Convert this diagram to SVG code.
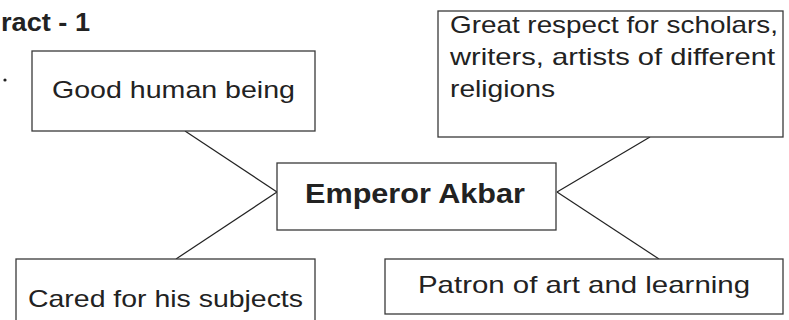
<svg xmlns="http://www.w3.org/2000/svg" width="789" height="320" viewBox="0 0 789 320">
<style>
.box{fill:#fff;stroke:#3a3a3a;stroke-width:1.3}
.t{font-family:"Liberation Sans",Arial,sans-serif;font-size:24px;fill:#222}
.b{font-family:"Liberation Sans",Arial,sans-serif;font-weight:bold;fill:#222}
.c{stroke:#222;stroke-width:1.2;fill:none}
</style>
<rect width="789" height="320" fill="#fff"/>
<text class="b" x="1" y="31" font-size="25" textLength="89" lengthAdjust="spacingAndGlyphs">ract - 1</text>
<circle cx="5" cy="80" r="1.6" fill="#222"/>
<g id="connectors">
<line class="c" x1="185" y1="131" x2="277" y2="192"/>
<line class="c" x1="277" y1="192" x2="176" y2="259"/>
<line class="c" x1="557" y1="192" x2="650" y2="137"/>
<line class="c" x1="557" y1="192" x2="659" y2="259"/>
</g>
<g id="good">
<rect class="box" x="32" y="51" width="283" height="80"/>
<text class="t" x="52" y="98" textLength="243" lengthAdjust="spacingAndGlyphs">Good human being</text>
</g>
<g id="respect">
<rect class="box" x="438" y="11" width="345" height="126"/>
<text class="t" x="450" y="33" textLength="328" lengthAdjust="spacingAndGlyphs">Great respect for scholars,</text>
<text class="t" x="450" y="65" textLength="325" lengthAdjust="spacingAndGlyphs">writers, artists of different</text>
<text class="t" x="450" y="97" textLength="105" lengthAdjust="spacingAndGlyphs">religions</text>
</g>
<g id="akbar">
<rect class="box" x="277" y="163" width="279" height="67"/>
<text class="b" x="305" y="203" font-size="28" textLength="220" lengthAdjust="spacingAndGlyphs">Emperor Akbar</text>
</g>
<g id="cared">
<rect class="box" x="16" y="259" width="299" height="64"/>
<text class="t" x="28" y="307" textLength="275" lengthAdjust="spacingAndGlyphs">Cared for his subjects</text>
</g>
<g id="patron">
<rect class="box" x="385" y="259" width="398" height="55"/>
<text class="t" x="418" y="293" textLength="332" lengthAdjust="spacingAndGlyphs">Patron of art and learning</text>
</g>
</svg>
